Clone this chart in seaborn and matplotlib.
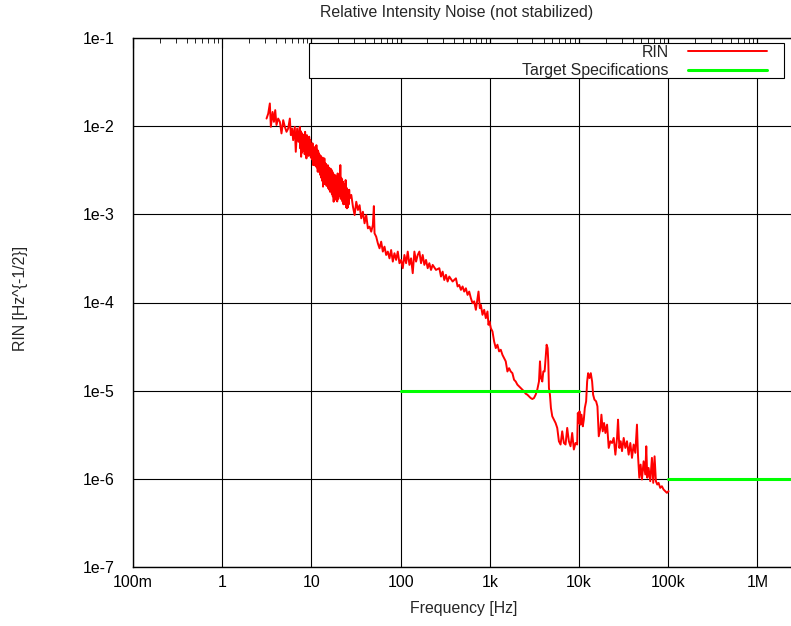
import matplotlib
matplotlib.use("Agg")
import matplotlib.pyplot as plt
import matplotlib.ticker as mticker
from matplotlib.patches import Rectangle
import seaborn as sns

sns.set_style("white")
plt.rcParams['font.family'] = ['Liberation Sans', 'DejaVu Sans']

# RIN trace, split by frequency band (Hz, 1/sqrt(Hz))
freq_a = [3.14, 3.28, 3.42, 3.51, 3.67, 3.80, 3.93, 4.06, 4.24, 4.43, 4.62, 4.83, 5.04, 5.26,
          5.49, 5.73, 5.88, 6.08, 6.24, 6.51, 6.68, 6.92, 7.16,
          7.41, 7.50, 7.58, 7.67, 7.76, 7.84, 7.93, 8.02, 8.11, 8.21, 8.31, 8.40, 8.50, 8.60,
          8.69, 8.79, 8.92, 9.05, 9.18, 9.31, 9.44, 9.58, 9.72, 9.86, 10.0]
rin_a = [1.22e-2, 1.39e-2, 1.81e-2, 9.83e-3, 1.45e-2, 1.12e-2, 1.52e-2, 1.03e-2, 1.22e-2,
         1.12e-2, 8.27e-3, 1.17e-2, 9.83e-3, 8.63e-3, 9.41e-3, 1.22e-2, 7.91e-3, 9.41e-3,
         6.94e-3, 9.83e-3, 5.12e-3, 9.41e-3, 6.65e-3,
         9.83e-3, 5.6e-3, 8.8e-3, 4.50e-3, 8.4e-3, 5.0e-3, 7.91e-3, 5.2e-3, 8.0e-3, 5.59e-3,
         7.6e-3, 4.8e-3, 8.63e-3, 5.0e-3, 7.8e-3, 4.31e-3, 7.9e-3, 4.9e-3, 7.25e-3, 4.6e-3,
         7.6e-3, 5.35e-3, 7.0e-3, 4.4e-3, 6.09e-3]

freq_b = [10.15, 10.29, 10.44, 10.53, 10.62, 10.71, 10.83, 10.95, 11.08, 11.17, 11.27, 11.37,
          11.50, 11.63, 11.77, 11.90, 12.04, 12.18, 12.32, 12.46, 12.60, 12.75, 12.90, 13.05,
          13.20, 13.35, 13.50, 13.65, 13.81, 13.97, 14.13, 14.29, 14.46, 14.62, 14.79, 14.96,
          15.13, 15.30, 15.48, 15.66, 15.84, 16.02, 16.20, 16.39, 16.58, 16.77, 16.96, 17.16,
          17.36, 17.56, 17.76, 17.96, 18.17, 18.38, 18.59, 18.80, 19.02, 19.24, 19.46, 19.69,
          19.91, 20.14, 20.37, 20.61, 20.85, 21.09, 21.33, 21.57, 21.82, 22.07, 22.32, 22.58,
          22.84, 23.10, 23.37, 23.64, 23.91, 24.19, 24.47, 24.75, 25.03, 25.32, 25.61, 25.91,
          26.21, 26.51, 26.81]
rin_b = [4.2e-3, 6.4e-3, 3.62e-3, 5.3e-3, 3.8e-3, 5.59e-3, 3.6e-3, 5.8e-3, 3.95e-3, 5.6e-3,
         3.5e-3, 6.09e-3, 3.4e-3, 5.4e-3, 3.04e-3, 5.2e-3, 3.2e-3, 4.90e-3, 3.0e-3, 4.7e-3,
         2.79e-3, 4.6e-3, 2.6e-3, 3.95e-3, 2.4e-3, 4.4e-3, 2.06e-3, 3.9e-3, 2.3e-3, 4.31e-3,
         2.2e-3, 3.8e-3, 2.45e-3, 3.7e-3, 2.1e-3, 3.46e-3, 2.2e-3, 3.6e-3, 1.97e-3, 3.4e-3,
         1.9e-3, 3.18e-3, 1.8e-3, 3.3e-3, 2.34e-3, 3.2e-3, 1.7e-3, 3.04e-3, 1.6e-3, 2.9e-3,
         1.39e-3, 2.6e-3, 1.5e-3, 2.79e-3, 1.6e-3, 2.7e-3, 1.45e-3, 2.5e-3, 1.4e-3, 2.91e-3,
         1.5e-3, 2.6e-3, 1.80e-3, 2.7e-3, 1.6e-3, 3.62e-3, 1.5e-3, 2.6e-3, 1.66e-3, 2.5e-3,
         1.4e-3, 2.34e-3, 1.3e-3, 2.2e-3, 1.39e-3, 2.1e-3, 1.3e-3, 2.45e-3, 1.2e-3, 2.0e-3,
         1.17e-3, 1.9e-3, 1.2e-3, 1.80e-3, 1.3e-3, 1.9e-3, 1.52e-3]

freq_c = [27.99, 29.22, 30.50, 31.83, 33.22, 34.67, 36.19, 37.78, 39.43, 41.17, 42.97, 44.85,
          46.82, 48.86, 50.14, 51.01, 53.24, 55.57, 58.00, 60.53, 63.20, 65.97, 68.84, 71.86,
          75.01, 78.31, 81.75, 85.31, 89.05, 92.94, 97.03, 101.3]
rin_c = [1.66e-3, 1.22e-3, 9.82e-4, 1.39e-3, 1.12e-3, 1.27e-3, 9.01e-4, 1.07e-3, 7.91e-4,
         9.82e-4, 6.94e-4, 7.25e-4, 6.36e-4, 7.57e-4, 1.24e-3, 6.09e-4, 5.58e-4, 4.69e-4,
         4.12e-4, 4.90e-4, 3.78e-4, 4.30e-4, 3.46e-4, 3.78e-4, 3.17e-4, 3.94e-4, 2.91e-4,
         3.62e-4, 3.04e-4, 3.78e-4, 2.79e-4, 3.04e-4]

freq_d = [105.7, 110.3, 115.2, 120.2, 125.5, 131.0, 136.7, 142.7, 149.0, 155.5, 162.3, 169.4,
          176.8, 184.6, 192.7, 201.1, 209.9, 219.1, 228.8, 249.2, 271.5, 283.4, 295.8, 308.8,
          322.3, 336.4, 351.2, 382.5, 416.9, 435.1, 454.2, 474.1, 494.9, 516.4, 539.1, 562.7,
          587.4, 613.1, 640.0, 668.2, 697.4, 727.8, 746.8, 772.9, 793.1, 827.9, 864.2, 901.8,
          941.3, 965.9, 991.1]
rin_d = [2.45e-4, 3.46e-4, 2.79e-4, 3.78e-4, 2.67e-4, 3.17e-4, 2.15e-4, 3.78e-4, 2.91e-4,
         3.46e-4, 3.78e-4, 2.79e-4, 3.46e-4, 2.67e-4, 3.04e-4, 2.45e-4, 2.79e-4, 2.34e-4,
         2.67e-4, 2.34e-4, 2.45e-4, 1.97e-4, 2.24e-4, 1.80e-4, 2.06e-4, 1.73e-4, 1.97e-4,
         1.73e-4, 1.88e-4, 1.52e-4, 1.58e-4, 1.39e-4, 1.52e-4, 1.33e-4, 1.45e-4, 1.22e-4,
         1.33e-4, 1.12e-4, 9.82e-5, 1.03e-4, 8.26e-5, 1.12e-4, 1.33e-4, 8.62e-5, 9.41e-5,
         7.25e-5, 8.26e-5, 6.64e-5, 7.91e-5, 5.58e-5, 6.09e-5]

freq_e = [1026, 1071, 1117, 1166, 1217, 1271, 1327, 1385, 1445, 1508, 1575, 1644, 1716, 1791,
          1869, 1951, 2037, 2126, 2219, 2316, 2418, 2523, 2634, 2749, 2870, 2996, 3127, 3264,
          3407, 3556, 3649, 3744, 3875, 3976, 4114, 4222, 4332, 4444, 4522, 4600, 4720, 4842,
          5011, 5230, 5460, 5699, 5948, 6209, 6479, 6764, 7062, 7371, 7693, 8031, 8382, 8750,
          9134, 9533, 9696, 9865]
rin_e = [5.12e-5, 4.69e-5, 3.62e-5, 3.04e-5, 3.32e-5, 2.79e-5, 2.91e-5, 2.55e-5, 2.34e-5,
         2.15e-5, 1.65e-5, 1.80e-5, 1.65e-5, 1.58e-5, 1.33e-5, 1.27e-5, 1.17e-5, 1.12e-5,
         1.07e-5, 1.03e-5, 9.82e-6, 9.24e-6, 9.00e-6, 8.62e-6, 8.25e-6, 8.04e-6, 8.25e-6,
         9.00e-6, 1.03e-5, 1.27e-5, 2.15e-5, 1.39e-5, 1.27e-5, 1.65e-5, 1.65e-5, 2.34e-5,
         3.32e-5, 3.04e-5, 2.15e-5, 1.07e-5, 9.00e-6, 6.36e-6, 5.12e-6, 4.69e-6, 4.30e-6,
         3.78e-6, 2.67e-6, 2.45e-6, 3.46e-6, 2.55e-6, 2.45e-6, 3.78e-6, 2.67e-6, 2.34e-6,
         3.31e-6, 2.15e-6, 2.55e-6, 2.45e-6, 5.58e-6, 4.30e-6]

freq_f = [10120, 10385, 10656, 11028, 11315, 11610, 12015, 12329, 12650, 13092, 13548, 14021,
          14387, 14887, 15542, 16084, 16645, 17374, 17827, 18446, 19091, 19756, 20625, 21528,
          22471, 23454, 24482, 25556, 26675, 27371, 28320, 29309, 30331, 31667, 33052, 34497,
          36007, 37584, 39235, 40953, 42747, 44619, 45781, 47377, 49030, 50741, 52966, 55286,
          56726, 58211, 60239, 62876, 65630, 67920, 70290, 72736, 75273, 77930, 81330, 84890,
          88610, 92500, 96540, 100800]
rin_f = [5.83e-6, 4.12e-6, 5.34e-6, 3.94e-6, 4.69e-6, 6.36e-6, 7.57e-6, 1.27e-5, 1.58e-5,
         1.39e-5, 1.58e-5, 1.27e-5, 9.00e-6, 7.91e-6, 7.57e-6, 6.64e-6, 3.04e-6, 3.78e-6,
         5.34e-6, 3.46e-6, 4.30e-6, 3.31e-6, 4.12e-6, 2.24e-6, 2.67e-6, 2.55e-6, 2.91e-6,
         1.88e-6, 2.91e-6, 4.69e-6, 2.24e-6, 2.67e-6, 2.06e-6, 2.91e-6, 2.24e-6, 2.67e-6,
         1.88e-6, 2.55e-6, 1.73e-6, 2.45e-6, 1.97e-6, 4.12e-6, 1.88e-6, 1.03e-6, 1.45e-6,
         9.82e-7, 1.58e-6, 1.12e-6, 2.34e-6, 1.03e-6, 1.33e-6, 9.40e-7, 1.73e-6, 9.00e-7,
         1.80e-6, 9.40e-7, 8.62e-7, 9.00e-7, 7.90e-7, 8.25e-7, 7.57e-7, 7.24e-7, 6.94e-7,
         7.24e-7]

rin_freq = freq_a + freq_b + freq_c + freq_d + freq_e + freq_f
rin_value = rin_a + rin_b + rin_c + rin_d + rin_e + rin_f

# target specification steps
spec_low_freq = [100, 10000]
spec_low_value = [1e-5, 1e-5]
spec_high_freq = [100000, 10000000]
spec_high_value = [1e-6, 1e-6]

xtick_values = [0.1, 1, 10, 100, 1e3, 1e4, 1e5, 1e6]
xtick_labels = ['100m', '1', '10', '100', '1k', '10k', '100k', '1M']
ytick_values = [1e-7, 1e-6, 1e-5, 1e-4, 1e-3, 1e-2, 1e-1]
ytick_labels = ['1e-7', '1e-6', '1e-5', '1e-4', '1e-3', '1e-2', '1e-1']

W, H = 791, 626
FS = 11.4
fig = plt.figure(figsize=(W / 100, H / 100), dpi=100)
ax = fig.add_axes([133 / W, (H - 567) / H, (800 - 133) / W, (567 - 38) / H])
ax.set_xscale('log')
ax.set_yscale('log')

sns.lineplot(x=rin_freq, y=rin_value, ax=ax, color='#ff0000', lw=1.4,
             estimator=None, sort=False, label='RIN')
sns.lineplot(x=spec_low_freq, y=spec_low_value, ax=ax, color='#00ff00', lw=2.2,
             estimator=None, label='Target Specifications')
sns.lineplot(x=spec_high_freq, y=spec_high_value, ax=ax, color='#00ff00', lw=2.2,
             estimator=None)

ax.set_xlim(0.1, 3e6)
ax.set_ylim(1e-7, 1e-1)

ax.set_xticks(xtick_values)
ax.set_xticklabels(xtick_labels)
ax.set_yticks(ytick_values)
ax.set_yticklabels(ytick_labels)
ax.xaxis.set_minor_locator(mticker.FixedLocator(
    [m * 10.0 ** e for e in range(-1, 6) for m in range(2, 10)]))
ax.yaxis.set_minor_locator(mticker.FixedLocator(
    [m * 10.0 ** e for e in range(-7, -1) for m in range(2, 10)]))
ax.xaxis.set_minor_formatter(mticker.NullFormatter())
ax.yaxis.set_minor_formatter(mticker.NullFormatter())

ax.tick_params(which='both', direction='in', top=True, right=True, colors='black',
               labelsize=FS)
ax.tick_params(which='major', length=7, width=0.8)
ax.tick_params(which='minor', length=3.5, width=0.6)
ax.tick_params(axis='y', pad=13)
ax.tick_params(axis='x', pad=6)

ax.grid(True, which='major', color='black', lw=0.8)
for sp in ax.spines.values():
    sp.set_color('black')
    sp.set_linewidth(1.0)

ax.set_xlabel('')
ax.set_ylabel('')

# key box, then the key entries on top of it
ax.add_patch(Rectangle((309 / W, 1 - 78 / H), 475 / W, 35 / H, transform=fig.transFigure,
                       facecolor='white', edgecolor='black', lw=0.8, zorder=4, clip_on=False))
handles, labels = ax.get_legend_handles_labels()
ax.legend(handles, labels, loc='upper right', bbox_to_anchor=(767 / W, 1 - 45 / H),
          bbox_transform=fig.transFigure, frameon=False, markerfirst=False,
          borderpad=0, borderaxespad=0, handlelength=5.0, handletextpad=1.2,
          labelspacing=0.22, fontsize=FS)

fig.text(457 / W, 1 - 13 / H, 'Relative Intensity Noise (not stabilized)',
         ha='center', va='center', fontsize=FS)
fig.text(464 / W, 1 - 609 / H, 'Frequency [Hz]', ha='center', va='center', fontsize=FS)
fig.text(21 / W, 1 - 298 / H, 'RIN [Hz^{-1/2}]', ha='center', va='center',
         rotation=90, fontsize=FS)

fig.savefig('out.png', dpi=100)
